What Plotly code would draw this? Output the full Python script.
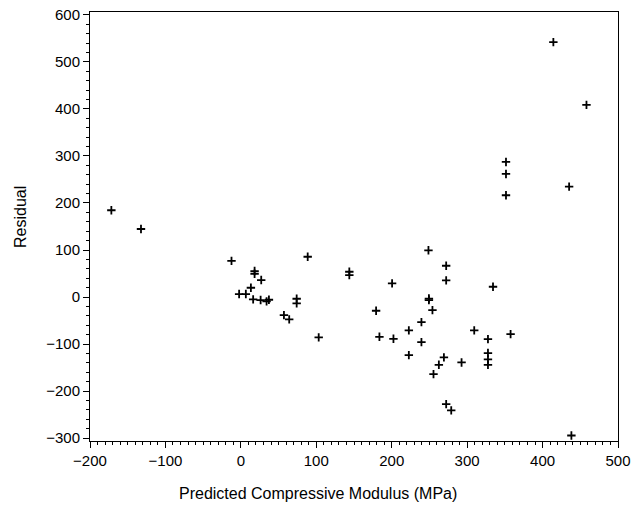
import plotly.graph_objects as go

predicted = [-171.7, -132.4, -12.4, 18.2, 18.2, 27.0, 13.3, -2.3, 6.6, 16.3,
             26.2, 34.1, 37.2, 57.1, 64.1, 74.0, 74.0, 88.6, 103.2, 143.8,
             143.8, 179.3, 183.7, 200.5, 202.3, 222.7, 222.7, 239.4, 239.4, 248.7,
             249.3, 249.3, 254.0, 255.4, 262.5, 269.2, 272.2, 272.2, 272.2, 278.9,
             292.6, 309.4, 327.6, 327.6, 327.6, 327.6, 334.3, 357.6, 351.5, 351.5,
             351.5, 414.3, 458.2, 435.2, 438.2]
residual = [184.5, 144.7, 77.0, 55.3, 49.6, 36.2, 19.8, 6.4, 6.4, -4.9,
            -6.4, -9.1, -5.7, -38.3, -47.4, -3.6, -13.4, 85.7, -85.7, 53.8,
            46.8, -29.1, -84.5, 29.1, -88.7, -70.9, -123.4, -53.2, -95.7, 99.4,
            -3.2, -6.4, -27.7, -163.8, -144.0, -128.3, 66.6, 35.5, -227.7, -241.0,
            -139.0, -70.9, -89.4, -119.0, -132.6, -144.0, 21.9, -78.7, 287.2, 261.7,
            216.4, 541.9, 408.5, 234.7, -294.3]

x_ticks = [-200, -100, 0, 100, 200, 300, 400, 500]
y_ticks = [-300, -200, -100, 0, 100, 200, 300, 400, 500, 600]

tick_font = dict(family="Liberation Sans, Arial, sans-serif", size=15, color="black")
title_font = dict(family="Liberation Sans, Arial, sans-serif", size=16, color="black")

fig = go.Figure(go.Scatter(
    x=predicted, y=residual, mode="markers",
    marker=dict(symbol="cross-thin", size=6, color="black",
                line=dict(color="black", width=1.8)),
    hoverinfo="x+y",
))

common = dict(ticks="outside", ticklen=6, tickwidth=1, tickcolor="black",
              showline=True, linecolor="black", linewidth=1, mirror=True,
              showgrid=False, zeroline=False, tickfont=tick_font, automargin=False,
              ticklabeloverflow="allow")

fig.update_layout(
    width=632, height=514,
    margin=dict(l=90, r=14, t=12, b=73, autoexpand=False),
    paper_bgcolor="white", plot_bgcolor="white",
    showlegend=False,
    xaxis=dict(range=[-200, 500], tickvals=x_ticks, **common,
               minor=dict(tickmode="linear", tick0=0, dtick=10, ticks="outside",
                          ticklen=3, tickcolor="black", showgrid=False)),
    yaxis=dict(range=[-306, 606], tickvals=y_ticks, **common,
               minor=dict(tickmode="linear", tick0=0, dtick=20, ticks="outside",
                          ticklen=3, tickcolor="black", showgrid=False)),
    annotations=[
        dict(text="Predicted Compressive Modulus (MPa)", xref="paper", yref="paper",
             x=(318 - 90) / 528, y=-(494 - 441) / 429, xanchor="center", yanchor="middle",
             showarrow=False, font=title_font),
        dict(text="Residual", xref="paper", yref="paper",
             x=-(90 - 20) / 528, y=(441 - 217) / 429, xanchor="center", yanchor="middle",
             textangle=-90, showarrow=False, font=title_font),
    ],
)

# remove the browser's default 8px body margin so the figure fills the window
fig.write_html("out.html",
               config={"displayModeBar": False},
               post_script="document.body.style.margin='0';document.body.style.overflow='hidden';")
